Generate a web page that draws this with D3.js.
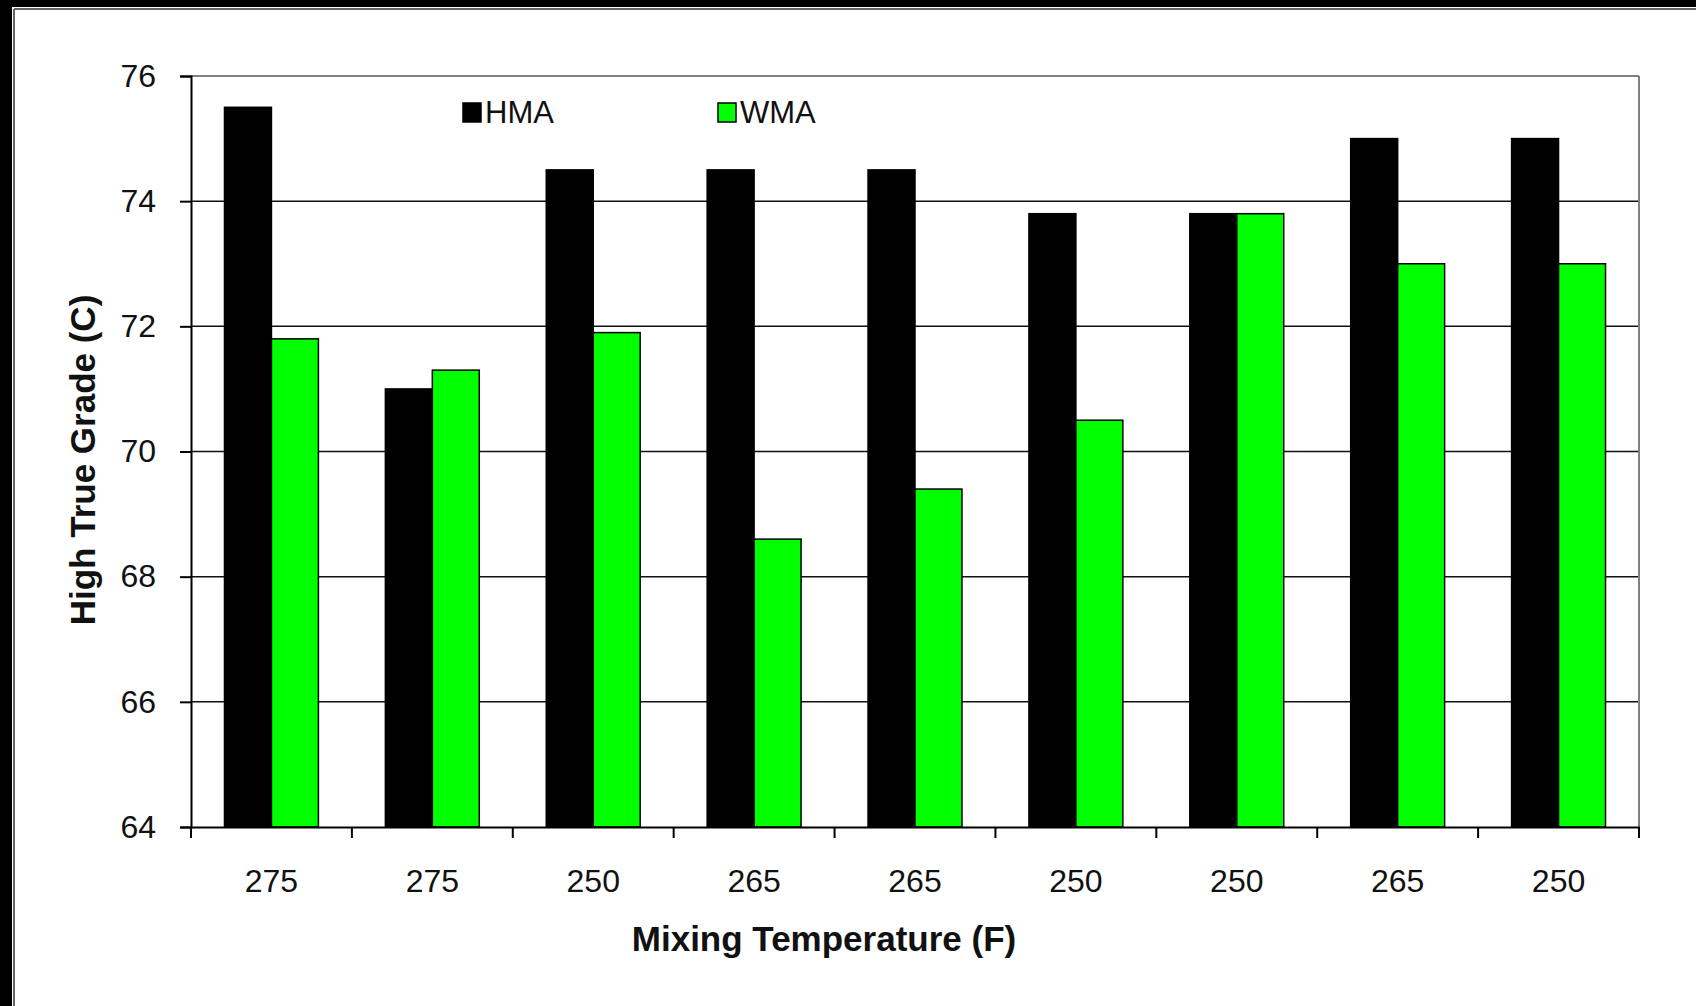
<!DOCTYPE html>
<html>
<head>
<meta charset="utf-8">
<script src="https://cdn.jsdelivr.net/npm/d3@7"></script>
<style>
    body { margin: 0; background: #fff; }
    svg text { font-family: "Liberation Sans", Arial, sans-serif; fill: #111; }
</style>
</head>
<body>
<div id="chart"></div>
<script>

// data
let categories = ["275", "275", "250", "265", "265", "250", "250", "265", "250"];
let seriesNames = ["HMA", "WMA"];
let hmaValues = [75.5, 71.0, 74.5, 74.5, 74.5, 73.8, 73.8, 75.0, 75.0];
let wmaValues = [71.8, 71.3, 71.9, 68.6, 69.4, 70.5, 73.8, 73.0, 73.0];
let yTicks = [64, 66, 68, 70, 72, 74, 76];
let colors = ["#000000", "#00ff00"];

let width = 1696, height = 1006;
let margin = {top: 76, right: 57, bottom: 179, left: 191};
let plotW = width - margin.left - margin.right;
let plotH = height - margin.top - margin.bottom;

let svg = d3.select("#chart").append("svg")
    .attr("width", width)
    .attr("height", height);

// frame on top / left like the original screenshot
svg.append("rect").attr("x", 0).attr("y", 0).attr("width", width).attr("height", 7).attr("fill", "#000");
svg.append("rect").attr("x", 0).attr("y", 0).attr("width", 12).attr("height", height).attr("fill", "#000");
svg.append("line").attr("x1", 14).attr("x2", width).attr("y1", 9).attr("y2", 9)
    .attr("stroke", "#666").attr("stroke-width", 2);
svg.append("line").attr("x1", 14).attr("x2", 14).attr("y1", 9).attr("y2", height)
    .attr("stroke", "#666").attr("stroke-width", 2);

let g = svg.append("g")
    .attr("transform", `translate(${margin.left}, ${margin.top})`);

let x = d3.scaleBand()
    .domain(d3.range(categories.length))
    .range([0, plotW])
    .padding(0);

let xSub = d3.scaleBand()
    .domain(seriesNames)
    .range([0, x.bandwidth()])
    .paddingInner(0)
    .paddingOuter(0.713);

let y = d3.scaleLinear()
    .domain([64, 76])
    .range([plotH, 0]);

// gridlines
g.selectAll(".grid")
    .data(yTicks.filter(d => d > 64 && d < 76))
    .enter()
    .append("line")
    .attr("class", "grid")
    .attr("x1", 0).attr("x2", plotW)
    .attr("y1", d => y(d)).attr("y2", d => y(d))
    .attr("stroke", "#111")
    .attr("stroke-width", 1.5);

// top + right border of the plot area
g.append("line").attr("x1", 0).attr("x2", plotW).attr("y1", 0).attr("y2", 0)
    .attr("stroke", "#808080").attr("stroke-width", 2);
g.append("line").attr("x1", plotW).attr("x2", plotW).attr("y1", 0).attr("y2", plotH)
    .attr("stroke", "#808080").attr("stroke-width", 2);

// bars
let rows = categories.map((c, i) => ({i: i, values: [hmaValues[i], wmaValues[i]]}));

let groups = g.selectAll(".group")
    .data(rows)
    .enter()
    .append("g")
    .attr("class", "group")
    .attr("transform", d => `translate(${x(d.i)}, 0)`);

groups.selectAll("rect")
    .data(d => d.values.map((v, k) => ({key: seriesNames[k], value: v, k: k})))
    .enter()
    .append("rect")
    .attr("x", d => xSub(d.key))
    .attr("y", d => y(d.value))
    .attr("width", xSub.bandwidth())
    .attr("height", d => plotH - y(d.value))
    .attr("fill", d => colors[d.k])
    .attr("stroke", "#000")
    .attr("stroke-width", 1.5);

// y axis
let yAxis = d3.axisLeft(y)
    .tickValues(yTicks)
    .tickSize(11)
    .tickPadding(24)
    .tickFormat(d3.format("d"));

let yG = g.append("g").call(yAxis);
yG.select(".domain").attr("stroke", "#000").attr("stroke-width", 2);
yG.selectAll(".tick line").attr("stroke", "#000").attr("stroke-width", 2);
yG.selectAll(".tick text")
    .style("font-size", "32px")
    .attr("fill", "#222");

// x axis
let xAxis = d3.axisBottom(x)
    .tickSize(0)
    .tickPadding(42)
    .tickFormat(i => categories[i]);

let xG = g.append("g")
    .attr("transform", `translate(0, ${plotH})`)
    .call(xAxis);
xG.select(".domain").attr("stroke", "#000").attr("stroke-width", 2);
xG.selectAll(".tick text")
    .style("font-size", "32px")
    .attr("fill", "#222");

// ticks between categories
xG.selectAll(".cat-tick")
    .data(d3.range(categories.length + 1))
    .enter()
    .append("line")
    .attr("class", "cat-tick")
    .attr("x1", d => d * x.step()).attr("x2", d => d * x.step())
    .attr("y1", 0).attr("y2", 11)
    .attr("stroke", "#000")
    .attr("stroke-width", 2);

// axis titles
svg.append("text")
    .attr("x", 824)
    .attr("y", 951)
    .attr("text-anchor", "middle")
    .style("font-size", "35px")
    .style("font-weight", "bold")
    .text("Mixing Temperature (F)");

svg.append("text")
    .attr("transform", `translate(95, 460) rotate(-90)`)
    .attr("text-anchor", "middle")
    .style("font-size", "35px")
    .style("font-weight", "bold")
    .text("High True Grade (C)");

// legend
let legendX = [463, 718];
let legend = svg.selectAll(".legend")
    .data(seriesNames)
    .enter()
    .append("g")
    .attr("class", "legend")
    .attr("transform", (d, i) => `translate(${legendX[i]}, 103)`);

legend.append("rect")
    .attr("width", 18)
    .attr("height", 19)
    .attr("fill", (d, i) => colors[i])
    .attr("stroke", "#000")
    .attr("stroke-width", 1.5);

legend.append("text")
    .attr("x", 22)
    .attr("y", 20)
    .style("font-size", "31px")
    .attr("fill", "#222")
    .text(d => d);

</script>
</body>
</html>
